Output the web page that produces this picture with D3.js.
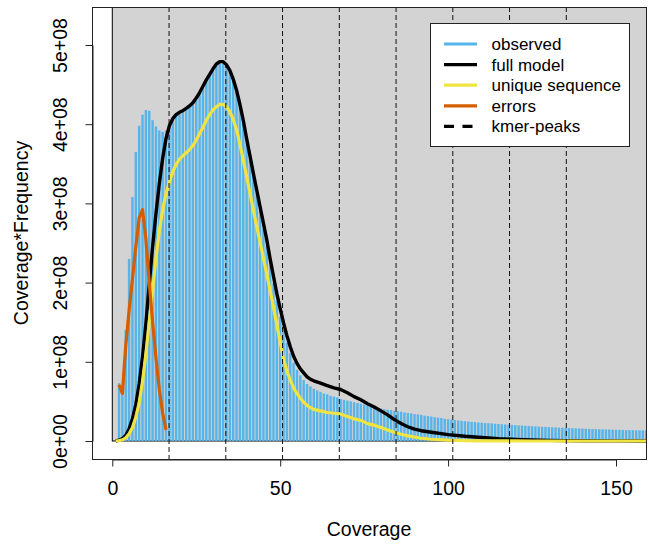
<!DOCTYPE html>
<html>
<head>
<meta charset="utf-8">
<title>GenomeScope profile</title>
<script src="https://d3js.org/d3.v7.min.js"></script>
<style>
  body { margin: 0; background: white; }
  text { font-family: "Liberation Sans", Arial, sans-serif; fill: black; }
</style>
</head>
<body>
<div id="chart"></div>
<script>
// all series values are in units of 1e+08 (Coverage*Frequency)
const unit = 1e8;

// observed histogram, coverage 2 .. 159
const observed = [
  0.73, 0.63, 1.40, 2.30, 3.08, 3.65, 3.98, 4.12, 4.18, 4.17,
  4.05, 3.97, 3.92, 3.90, 3.92, 3.96, 4.05, 4.10, 4.13, 4.15,
  4.18, 4.21, 4.25, 4.31, 4.38, 4.46, 4.54, 4.61, 4.68, 4.74,
  4.77, 4.77, 4.73, 4.66, 4.55, 4.41, 4.23, 4.02, 3.79, 3.56,
  3.34, 3.12, 2.90, 2.68, 2.46, 2.22, 1.99, 1.77, 1.57, 1.40,
  1.24, 1.11, 0.99, 0.90, 0.83, 0.77, 0.72, 0.69, 0.66, 0.64,
  0.62, 0.60, 0.59, 0.57, 0.56, 0.55, 0.53, 0.52, 0.51, 0.50,
  0.49, 0.48, 0.47, 0.46, 0.45, 0.44, 0.43, 0.42, 0.41, 0.40,
  0.395, 0.39, 0.38, 0.375, 0.37, 0.36, 0.355, 0.35, 0.34, 0.335,
  0.33, 0.32, 0.315, 0.31, 0.30, 0.295, 0.29, 0.28, 0.275, 0.27,
  0.265, 0.26, 0.255, 0.25, 0.246, 0.242, 0.238, 0.235, 0.231, 0.228,
  0.225, 0.222, 0.218, 0.215, 0.212, 0.209, 0.206, 0.203, 0.200, 0.197,
  0.195, 0.192, 0.190, 0.187, 0.185, 0.182, 0.180, 0.178, 0.175, 0.173,
  0.171, 0.169, 0.167, 0.165, 0.163, 0.162, 0.160, 0.158, 0.157, 0.155,
  0.153, 0.152, 0.150, 0.149, 0.147, 0.146, 0.145, 0.143, 0.142, 0.141,
  0.140, 0.138, 0.137, 0.136, 0.135, 0.134, 0.133, 0.132
];
const obsCov = d3.range(2, 2 + observed.length);

// coverage points where the model curves were read
const modelCov = [
  1, 2, 3, 4, 5, 6, 7, 8, 9, 10, 11, 12, 13, 14, 15, 16, 17, 18, 19, 20,
  21, 22, 23, 24, 25, 26, 27, 28, 29, 30, 31, 32, 33, 34, 35, 36, 37, 38, 39, 40,
  41, 42, 43, 44, 45, 46, 47, 48, 49, 50, 51, 52, 53, 54, 55, 56, 57, 58, 59, 60,
  62, 64, 66, 68, 70, 72, 74, 76, 78, 80, 82, 84, 86, 88, 90, 92,
  95, 100, 105, 110, 115, 120, 125, 130, 135, 140, 150, 160
];
const fullModel = [
  0.0, 0.01, 0.03, 0.07, 0.15, 0.28, 0.46, 0.72, 1.06, 1.48,
  1.98, 2.45, 2.87, 3.25, 3.57, 3.82, 3.98, 4.07, 4.12, 4.15,
  4.17, 4.20, 4.23, 4.27, 4.33, 4.40, 4.48, 4.56, 4.63, 4.70,
  4.76, 4.79, 4.79, 4.75, 4.68, 4.57, 4.43, 4.25, 4.05, 3.82,
  3.60, 3.38, 3.17, 2.96, 2.75, 2.54, 2.30, 2.08, 1.86, 1.67,
  1.49, 1.33, 1.19, 1.07, 0.98, 0.91, 0.86, 0.81, 0.78, 0.76,
  0.73, 0.70, 0.67, 0.65, 0.61, 0.56, 0.52, 0.47, 0.43, 0.38, 0.33, 0.27, 0.22, 0.18, 0.15, 0.13,
  0.11, 0.08, 0.06, 0.045, 0.03, 0.02, 0.013, 0.008, 0.005, 0.003, 0.001, 0.0
];
const uniqueSeq = [
  0.0, 0.005, 0.015, 0.04, 0.09, 0.17, 0.30, 0.48, 0.75, 1.10,
  1.50, 1.90, 2.30, 2.65, 2.92, 3.12, 3.27, 3.40, 3.49, 3.56,
  3.60, 3.64, 3.68, 3.73, 3.80, 3.88, 3.96, 4.05, 4.12, 4.18,
  4.22, 4.25, 4.25, 4.22, 4.16, 4.06, 3.93, 3.75, 3.55, 3.34,
  3.13, 2.92, 2.71, 2.51, 2.31, 2.11, 1.90, 1.69, 1.47, 1.25,
  1.03, 0.88, 0.77, 0.67, 0.60, 0.54, 0.49, 0.45, 0.42, 0.40,
  0.38, 0.36, 0.35, 0.34, 0.31, 0.28, 0.26, 0.22, 0.20, 0.17, 0.14, 0.11, 0.085, 0.065, 0.05, 0.035,
  0.022, 0.01, 0.005, 0.002, 0.001, 0.0005, 0, 0, 0, 0, 0, 0
];

// error k-mers
const errCov = [2, 3, 4, 5, 6, 7, 8, 9, 10, 11, 12, 13, 14, 15, 16];
const errors = [0.71, 0.60, 1.20, 1.65, 2.05, 2.45, 2.82, 2.92, 2.55, 2.00, 1.50, 1.05, 0.65, 0.35, 0.14];

const kmerPeaks = [16.9, 33.8, 50.7, 67.6, 84.5, 101.4, 118.3, 135.2];

const xTicks = [0, 50, 100, 150];
const yTicks = [0, 1, 2, 3, 4, 5];
const yTickLabels = ["0e+00", "1e+08", "2e+08", "3e+08", "4e+08", "5e+08"];

const legendLabels = ["observed", "full model", "unique sequence", "errors", "kmer-peaks"];
const legendColors = ["#56B4E9", "black", "#F0E442", "#D55E00", "black"];

const width = 649;
const height = 544;
const box = { left: 92, right: 646, top: 7, bottom: 459 };

const svg = d3.select("#chart")
  .append("svg")
  .attr("width", width)
  .attr("height", height);

const xScale = d3.scaleLinear().domain([0, 150]).range([112.3, 616]);
const yScale = d3.scaleLinear().domain([0, 5 * unit]).range([441, 45]);

svg.append("clipPath").attr("id", "plotclip")
  .append("rect")
  .attr("x", box.left).attr("y", box.top)
  .attr("width", box.right - box.left).attr("height", box.bottom - box.top);

const plot = svg.append("g").attr("clip-path", "url(#plotclip)");

// grey background, starting at (0,0) like R's rect()
plot.append("rect")
  .attr("x", xScale(0))
  .attr("y", box.top - 5)
  .attr("width", box.right - xScale(0) + 10)
  .attr("height", yScale(0) - box.top + 5)
  .attr("fill", "#D3D3D3")
  .attr("stroke", "black")
  .attr("stroke-width", 1);

// observed histogram (type="h")
plot.selectAll(".bar")
  .data(observed)
  .enter()
  .append("line")
  .attr("class", "bar")
  .attr("x1", (d, i) => xScale(obsCov[i]))
  .attr("x2", (d, i) => xScale(obsCov[i]))
  .attr("y1", yScale(0))
  .attr("y2", d => yScale(d * unit))
  .attr("stroke", "#56B4E9")
  .attr("stroke-width", 2.4);

function drawCurve(xs, ys, color, w) {
  const line = d3.line()
    .x((d, i) => xScale(xs[i]))
    .y(d => yScale(d * unit));
  plot.append("path")
    .datum(ys)
    .attr("fill", "none")
    .attr("stroke", color)
    .attr("stroke-width", w)
    .attr("stroke-linejoin", "round")
    .attr("d", line);
}

drawCurve(modelCov, fullModel, "black", 3.4);
drawCurve(modelCov, uniqueSeq, "#F0E442", 3.2);
drawCurve(errCov, errors, "#D55E00", 3.2);

// kmer peaks
plot.selectAll(".peak")
  .data(kmerPeaks)
  .enter()
  .append("line")
  .attr("class", "peak")
  .attr("x1", d => xScale(d))
  .attr("x2", d => xScale(d))
  .attr("y1", box.top)
  .attr("y2", box.bottom)
  .attr("stroke", "#111")
  .attr("stroke-width", 1)
  .attr("stroke-dasharray", "5,3");

// box
svg.append("rect")
  .attr("x", box.left + 0.5).attr("y", box.top + 0.5)
  .attr("width", box.right - box.left).attr("height", box.bottom - box.top)
  .attr("fill", "none")
  .attr("stroke", "#222")
  .attr("stroke-width", 1);

// x axis
const xAxis = svg.append("g")
  .attr("transform", "translate(0," + (box.bottom + 0.5) + ")")
  .call(d3.axisBottom(xScale).tickValues(xTicks).tickSize(7).tickSizeOuter(0).tickPadding(15));
xAxis.select(".domain").attr("stroke", "#222");
xAxis.selectAll(".tick line").attr("stroke", "#222");
xAxis.selectAll("text").style("font-size", "19.5px").attr("fill", "black");

// y axis, labels rotated like R (las = 0)
const yAxis = svg.append("g")
  .attr("transform", "translate(" + (box.left + 0.5) + ",0)")
  .call(d3.axisLeft(yScale).tickValues(yTicks.map(d => d * unit)).tickSize(7).tickSizeOuter(0)
    .tickFormat((d, i) => yTickLabels[i]));
yAxis.select(".domain").attr("stroke", "#222");
yAxis.selectAll(".tick line").attr("stroke", "#222");
yAxis.selectAll("text")
  .style("font-size", "19.5px")
  .attr("fill", "black")
  .attr("transform", "rotate(-90)")
  .attr("x", 0)
  .attr("y", -26)
  .attr("dy", 0)
  .attr("text-anchor", "middle");

// axis titles
svg.append("text")
  .attr("x", (box.left + box.right) / 2)
  .attr("y", 536)
  .attr("text-anchor", "middle")
  .style("font-size", "19.5px")
  .text("Coverage");

svg.append("text")
  .attr("transform", "translate(28," + (box.top + box.bottom) / 2 + ") rotate(-90)")
  .attr("text-anchor", "middle")
  .style("font-size", "19.5px")
  .text("Coverage*Frequency");

// legend
const legend = svg.append("g");
legend.append("rect")
  .attr("x", 430.5).attr("y", 23.5)
  .attr("width", 199).attr("height", 123)
  .attr("fill", "white")
  .attr("stroke", "#222")
  .attr("stroke-width", 1);

const rows = legend.selectAll(".lg")
  .data(legendLabels)
  .enter()
  .append("g")
  .attr("class", "lg")
  .attr("transform", (d, i) => "translate(0," + (44 + i * 20.6) + ")");

rows.append("line")
  .attr("x1", 444).attr("x2", 477)
  .attr("y1", 0).attr("y2", 0)
  .attr("stroke", (d, i) => legendColors[i])
  .attr("stroke-width", 3.2)
  .attr("stroke-dasharray", (d, i) => i === 4 ? "10,8.5" : null);

rows.append("text")
  .attr("x", 491.5)
  .attr("y", 0)
  .attr("dy", "0.35em")
  .style("font-size", "17px")
  .text(d => d);
</script>
</body>
</html>
